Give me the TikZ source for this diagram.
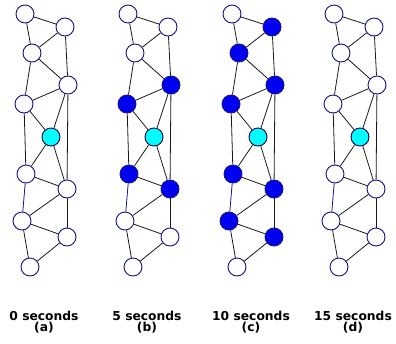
\documentclass[tikz,border=0pt]{standalone}
\usepackage{fontspec}
\setsansfont{DejaVu Sans}
\usetikzlibrary{backgrounds}
\definecolor{nodeedge}{RGB}{20,20,140}
\definecolor{fillblue}{RGB}{0,0,240}
\definecolor{fillcyan}{RGB}{0,255,255}
\tikzset{
  vtx/.style={circle,draw=nodeedge,line width=0.9pt,minimum size=18pt,inner sep=0pt,fill=white},
  wv/.style={vtx},
  bv/.style={vtx,fill=fillblue},
  src/.style={vtx,fill=fillcyan,draw=black!70!blue},
  lnk/.style={line width=0.8pt,draw=black!90},
  blnk/.style={line width=0.8pt,draw=nodeedge},
  lab/.style={font=\sffamily\bfseries\fontsize{12.3}{11.5}\selectfont,align=center}
}
\begin{document}
\begin{tikzpicture}[x=1pt,y=-1pt]
\useasboundingbox (0,0) rectangle (396,343);
\foreach \p/\dx/\ta/\tb/\tc/\td/\te/\tf/\tg/\th/\ti/\tj/\tlab/\tl in {
  a/0/wv/wv/wv/wv/wv/wv/wv/wv/wv/wv/0 seconds/(a),
  b/103/wv/wv/wv/bv/bv/bv/bv/wv/wv/wv/5 seconds/(b),
  c/207/wv/bv/bv/bv/bv/bv/bv/bv/bv/wv/10 seconds/(c),
  d/309/wv/wv/wv/wv/wv/wv/wv/wv/wv/wv/15 seconds/(d)} {
  \begin{scope}[xshift=\dx pt]
    \node[\ta] (\p1) at (25,14) {};
    \node[\tb] (\p2) at (65,27) {};
    \node[\tc] (\p3) at (32,53) {};
    \node[\td] (\p4) at (68,85) {};
    \node[\te] (\p5) at (24,104) {};
    \node[src] (\p6) at (51,137) {};
    \node[\tf] (\p7) at (26,174) {};
    \node[\tg] (\p8) at (67,189) {};
    \node[\th] (\p9) at (22,221) {};
    \node[\ti] (\p10) at (67,237) {};
    \node[\tj] (\p11) at (30,267) {};
    \node[lab] (\p lab) at (44,322) {\tlab\\\tl};
  \end{scope}
}
\begin{pgfonlayer}{background}
\foreach \p in {a,b,c,d} {
  \foreach \u/\v in {1/2,1/3,2/3,2/4,3/4,3/5,4/5,4/6,5/6,4/8,5/7,6/7,6/8,7/8,8/9,8/10,9/10,9/11,10/11}
    \draw[lnk] (\p\u) -- (\p\v);
  \draw[blnk] (\p7) -- (\p9);
}
\end{pgfonlayer}
\end{tikzpicture}
\end{document}
